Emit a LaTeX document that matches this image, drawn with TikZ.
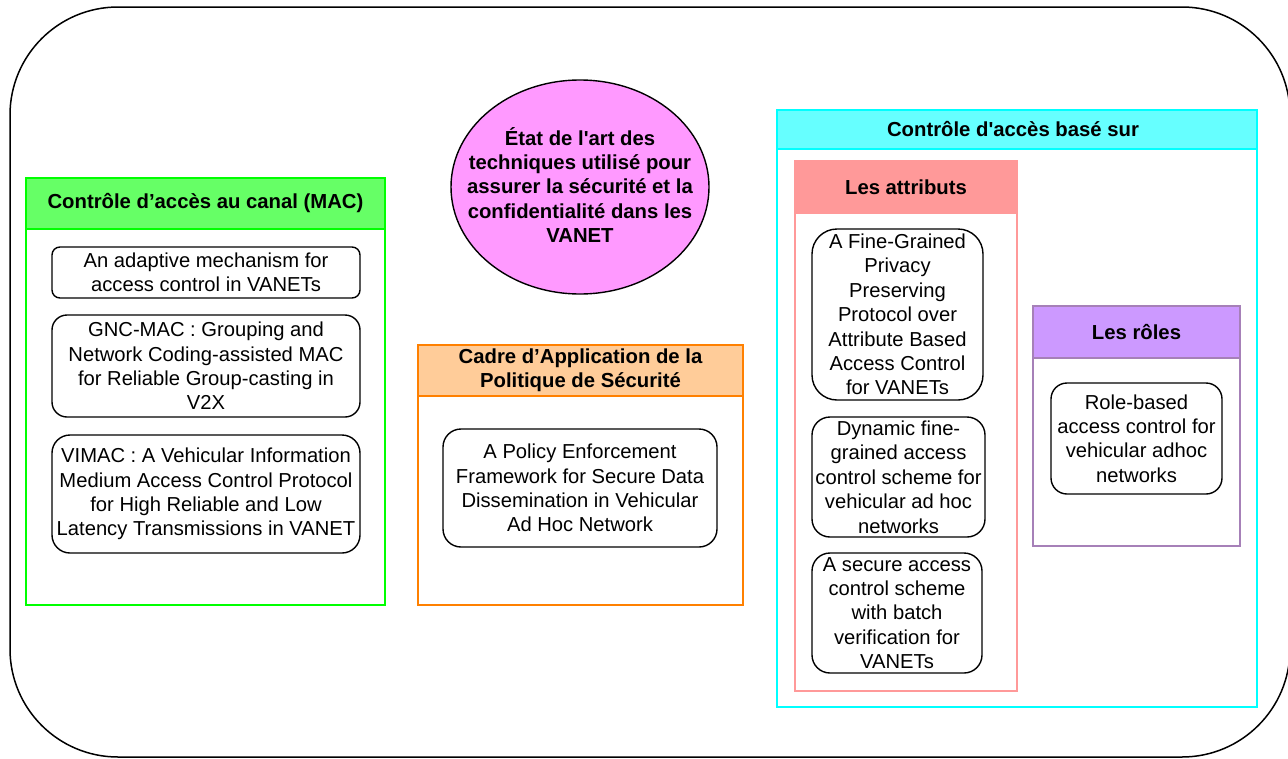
\documentclass[tikz,border=0pt]{standalone}
\usepackage{fontspec}
\setmainfont{Liberation Sans}
\usetikzlibrary{shapes.geometric}
\definecolor{gfill}{HTML}{66FF66}
\definecolor{gline}{HTML}{00FF00}
\definecolor{ofill}{HTML}{FFCC99}
\definecolor{oline}{HTML}{FF8000}
\definecolor{cfill}{HTML}{66FFFF}
\definecolor{cline}{HTML}{00FFFF}
\definecolor{pfill}{HTML}{FF9999}
\definecolor{pline}{HTML}{FF9999}
\definecolor{vfill}{HTML}{CC99FF}
\definecolor{vline}{HTML}{A680B8}
\definecolor{efill}{HTML}{FF99FF}
\begin{document}
\begin{tikzpicture}[x=1pt,y=-1pt,
  container/.style={draw=#1, line width=1.8pt, inner sep=0pt, rectangle},
  header/.style={fill=#1, inner sep=0pt, rectangle},
  rbox/.style={draw=black, line width=1.4pt, inner sep=0pt, rectangle, fill=white},
  txt/.style={align=center, inner sep=0pt, font=\fontsize{20.2}{24.4}\selectfont},
  btxt/.style={align=center, inner sep=0pt, font=\fontsize{20.3}{24.4}\selectfont\bfseries}]
\clip (0,0) rectangle (1288,758);
\fill[white] (0,0) rectangle (1288,758);
\draw[line width=1.5pt, rounded corners=108pt] (10,7) rectangle (1290,757);

% Green: MAC
\node[header=gfill, minimum width=359pt, minimum height=51pt] (gh) at (205.5,203.5) {};
\node[container=gline, minimum width=359pt, minimum height=427pt] (gc) at (205.5,391.5) {};
\draw[gline, line width=1.8pt] (gh.south west) -- (gh.south east);
\node[btxt] (ght) at (gh) {Contrôle d’accès au canal (MAC)};
\node[rbox, rounded corners=8pt, minimum width=308pt, minimum height=51pt] (b1) at (206,272.5) {};
\node[txt] (b1t) at (b1) {An adaptive mechanism for\\access control in VANETs};
\node[rbox, rounded corners=15pt, minimum width=308pt, minimum height=102pt] (b2) at (206,366) {};
\node[txt] (b2t) at (b2) {GNC-MAC : Grouping and\\Network Coding-assisted MAC\\for Reliable Group-casting in\\V2X};
\node[rbox, rounded corners=18pt, minimum width=308pt, minimum height=118pt] (b3) at (206,494) {};
\node[txt] (b3t) at (b3) {VIMAC : A Vehicular Information\\Medium Access Control Protocol\\for High Reliable and Low\\Latency Transmissions in VANET};

% Ellipse
\node[ellipse, draw=black, line width=1.4pt, fill=efill, minimum width=258pt, minimum height=214pt, inner sep=0pt] (el) at (580,187) {};
\node[btxt] (elt) at (580,185) {État de l\textquotesingle art des\\techniques utilisé pour\\assurer la sécurité et la\\confidentialité dans les\\VANET};

% Orange: policy
\node[header=ofill, minimum width=325pt, minimum height=51pt] (oh) at (580.5,370.5) {};
\node[container=oline, minimum width=325pt, minimum height=260pt] (oc) at (580.5,475) {};
\draw[oline, line width=1.8pt] (oh.south west) -- (oh.south east);
\node[btxt] (oht) at (oh) {Cadre d’Application de la\\Politique de Sécurité};
\node[rbox, rounded corners=18pt, minimum width=274pt, minimum height=118pt] (o1) at (580,488) {};
\node[txt] (o1t) at (o1) {A Policy Enforcement\\Framework for Secure Data\\Dissemination in Vehicular\\Ad Hoc Network};

% Cyan: access control based on
\node[header=cfill, minimum width=480pt, minimum height=39pt] (ch) at (1017,129.5) {};
\node[container=cline, minimum width=480pt, minimum height=597pt] (cc) at (1017,408.5) {};
\draw[cline, line width=1.8pt] (ch.south west) -- (ch.south east);
\node[btxt] (cht) at (1013,129.5) {Contrôle d\textquotesingle accès basé sur};

% Pink: attributes
\node[header=pfill, minimum width=222pt, minimum height=52pt] (ph) at (906,187) {};
\node[container=pline, minimum width=222pt, minimum height=530pt] (pc) at (906,426) {};
\draw[pline, line width=1.8pt] (ph.south west) -- (ph.south east);
\node[btxt] (pht) at (ph) {Les attributs};
\node[rbox, rounded corners=25pt, minimum width=171pt, minimum height=171pt] (a1) at (897.5,314.5) {};
\node[txt] (a1t) at (a1) {A Fine-Grained\\Privacy\\Preserving\\Protocol over\\Attribute Based\\Access Control\\for VANETs};
\node[rbox, rounded corners=18pt, minimum width=173pt, minimum height=120pt] (a2) at (898.5,477) {};
\node[txt] (a2t) at (a2) {Dynamic fine-\\grained access\\control scheme for\\vehicular ad hoc\\networks};
\node[rbox, rounded corners=18pt, minimum width=170pt, minimum height=120pt] (a3) at (897,613) {};
\node[txt] (a3t) at (a3) {A secure access\\control scheme\\with batch\\verification for\\VANETs};

% Purple: roles
\node[header=vfill, minimum width=207pt, minimum height=52pt] (vh) at (1136.5,332) {};
\node[container=vline, minimum width=207pt, minimum height=240pt] (vc) at (1136.5,426) {};
\draw[vline, line width=1.8pt] (vh.south west) -- (vh.south east);
\node[btxt] (vht) at (vh) {Les rôles};
\node[rbox, rounded corners=16pt, minimum width=171pt, minimum height=111pt] (r1) at (1136.5,438.5) {};
\node[txt] (r1t) at (r1) {Role-based\\access control for\\vehicular adhoc\\networks};
\end{tikzpicture}
\end{document}
